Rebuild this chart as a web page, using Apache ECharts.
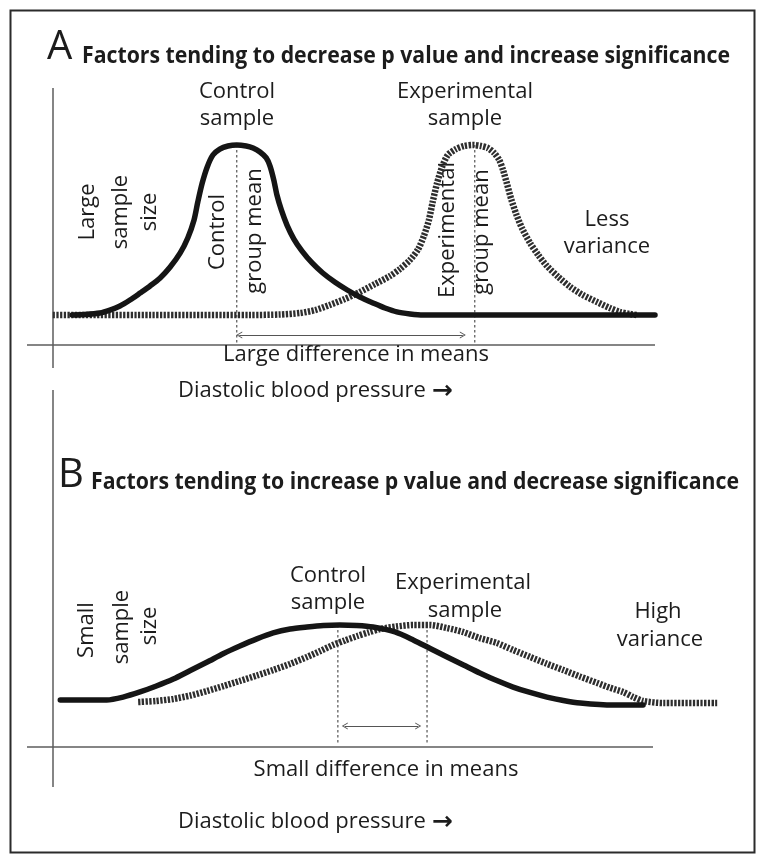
<!DOCTYPE html>
<html><head><meta charset="utf-8">
<script src="https://cdn.jsdelivr.net/npm/echarts@6/dist/echarts.min.js"></script>
<style>html,body{margin:0;padding:0;background:#fff}#c{width:764px;height:863px}</style>
</head><body><div id="c"></div>
<script>
// ---- Panel A (large sample, less variance) : [blood pressure units, relative height]
const controlA = [[7.2,0],[9.2,0.3],[11.6,1.2],[13.2,2.9],[14.8,5.3],[16.4,8.8],[18.0,12.9],[19.6,17.1],[21.2,21.8],[22.8,28.2],[24.4,36.5],[25.6,45.3],[26.6,55.9],[27.2,66.5],[27.9,77.6],[28.7,87.1],[29.6,94.1],[30.7,97.6],[32.0,99.4],[33.4,100],[34.9,99.4],[36.0,98.2],[37.1,95.9],[38.1,92.4],[38.7,87.6],[39.3,79.4],[39.8,70.6],[40.5,61.8],[41.4,52.9],[42.5,44.7],[43.8,37.6],[45.4,30.6],[47.1,24.7],[49.0,19.4],[51.0,14.7],[53.0,10.6],[55.1,7.1],[57.0,4.1],[58.9,1.8],[61.0,0.6],[63.1,0],[80,0],[100,0]];
const experimentalA = [[4.1,0],[19.6,0],[35.5,0],[40.3,0.3],[43.5,1.2],[45.9,2.9],[48.2,5.9],[50.6,9.4],[53.0,13.5],[55.4,18.2],[57.8,22.9],[59.4,27.1],[61.0,32.4],[62.3,38.8],[63.2,46.5],[64.0,55.9],[64.6,66.5],[65.3,77.6],[66.1,87.1],[67.0,94.1],[68.3,97.6],[69.6,99.4],[71.0,100],[72.3,99.4],[73.4,98.2],[74.4,95.3],[75.2,91.2],[75.8,85.3],[76.4,77.6],[77.1,68.2],[77.9,59.4],[78.8,51.2],[80.1,42.4],[81.4,35.3],[82.8,28.8],[84.6,22.4],[86.5,16.5],[88.5,11.8],[90.8,7.6],[92.8,4.1],[94.4,1.8],[96.0,0.6],[97.1,0]];
const meansA = [33.4, 71.3];
const meanTopsA = [100, 100];
const diffArrowA = [33.8, 69.4];

// ---- Panel B (small sample, high variance)
const controlB = [[5.3,1.2],[12.7,1.2],[15.3,2.9],[18.0,5.9],[20.6,9.4],[23.3,13.5],[26.0,18.5],[28.7,23.5],[31.3,28.5],[33.9,32.9],[36.6,37.1],[39.2,40.6],[41.9,42.9],[44.6,44.1],[47.2,45.0],[49.8,45.3],[52.5,45.0],[55.1,44.1],[58.6,41.2],[61.5,36.5],[64.2,31.5],[66.9,26.5],[69.5,21.8],[72.1,17.1],[74.8,12.6],[77.4,8.8],[80.1,5.6],[82.8,2.9],[85.4,0.9],[88.1,-0.6],[93.3,-1.8],[98.1,-1.8]];
const experimentalB = [[17.7,0],[20.5,0.6],[23.3,1.8],[26.0,3.8],[28.7,6.5],[31.3,9.4],[33.9,12.4],[36.6,15.6],[39.2,18.8],[41.9,22.4],[44.6,26.5],[46.7,30.0],[48.7,33.5],[50.6,36.2],[52.6,38.8],[54.4,41.0],[56.2,42.9],[58.8,44.4],[61.5,45.3],[64.2,45.3],[66.9,43.5],[69.4,41.2],[72.1,37.6],[74.8,34.7],[77.4,30.6],[80.1,26.5],[82.7,22.6],[85.4,18.8],[88.1,14.9],[90.8,11.2],[92.8,8.4],[94.9,5.9],[96.5,3.0],[98.1,0.6],[101.3,-0.6],[109.9,-0.6]];
const meansB = [49.5, 63.7];
const meanTopsB = [45.3, 45.3];
const diffArrowB = [50.6, 62.3];

// ---- texts
const titleA = 'Factors tending to decrease p value and increase significance';
const titleB = 'Factors tending to increase p value and decrease significance';
const axisTitle = 'Diastolic blood pressure ';

const FONT = '"Open Sans", "Noto Sans", sans-serif';
const TXT = '#1c1c1c';
const chevron = 'path://M0,10 L5,0 L10,10 L8.6,10 L5,2.8 L1.4,10 Z';

function measure(str, font) {
  const ctx = document.createElement('canvas').getContext('2d');
  ctx.font = font; return ctx.measureText(str).width;
}
function label(text, x, y, o) {
  o = o || {};
  const st = { text: text, fill: TXT, fontSize: o.size || 22, fontFamily: FONT,
      fontWeight: o.weight || 'normal', align: o.align || 'center', verticalAlign: 'middle' };
  if (o.rich) st.rich = o.rich;
  return { type: 'text', x: x, y: y, rotation: o.rot || 0, silent: true, scaleX: o.sx || 1, style: st };
}
function gline(x1, y1, x2, y2, color, w) {
  return { type: 'line', silent: true, shape: { x1, y1, x2, y2 }, style: { stroke: color, lineWidth: w } };
}
const arrowRich = {
  t: { fontSize: 22, fontFamily: FONT, fill: TXT },
  a: { fontSize: 25, fontFamily: '"DejaVu Sans", sans-serif', fontWeight: 'bold', fill: TXT }
};

const titleFont = 'bold 24px "Open Sans"';
const tw = measure(titleA, titleFont);
const sxTitle = 648 / tw;

const R = Math.PI / 2;
const AX = '#5c5c5c';
const graphics = [
  { type: 'rect', silent: true, shape: { x: 10.5, y: 10.5, width: 744, height: 842 }, style: { fill: null, stroke: '#2b2b2b', lineWidth: 2 } },
  gline(27, 345, 655, 345, AX, 1.5), gline(53, 88, 53, 368, AX, 1.5),
  gline(27, 747, 653, 747, AX, 1.5), gline(53, 390, 53, 787, AX, 1.5),
  // Panel A texts
  label('A', 47, 48, { size: 40, align: 'left' }),
  label(titleA, 82, 56, { size: 24, weight: 'bold', align: 'left', sx: sxTitle }),
  label('Control', 237, 92), label('sample', 237, 119),
  label('Experimental', 465, 92), label('sample', 465, 119),
  label('Large', 88, 212, { rot: R }), label('sample', 121, 212, { rot: R }), label('size', 150, 212, { rot: R }),
  label('Control', 218, 232, { rot: R }), label('group mean', 255, 231, { rot: R }),
  label('Experimental', 448, 230, { rot: R }), label('group mean', 482, 232, { rot: R }),
  label('Less', 607, 220), label('variance', 607, 247),
  label('Large difference in means', 356, 355),
  label('{t|' + axisTitle + '}{a|\u2192}', 178, 391, { align: 'left', rich: arrowRich }),
  // Panel B texts
  label('B', 58, 476, { size: 40, align: 'left' }),
  label(titleB, 91, 482, { size: 24, weight: 'bold', align: 'left', sx: sxTitle }),
  label('Control', 328, 576), label('sample', 328, 603),
  label('Experimental', 463, 583), label('sample', 465, 611),
  label('High', 658, 612), label('variance', 660, 640),
  label('Small', 87, 630, { rot: R }), label('sample', 122, 627, { rot: R }), label('size', 150, 626, { rot: R }),
  label('Small difference in means', 386, 770),
  label('{t|' + axisTitle + '}{a|\u2192}', 178, 822, { align: 'left', rich: arrowRich })
];

function curve(data, gi, solid) {
  return { type: 'line', xAxisIndex: gi, yAxisIndex: gi, data: data, smooth: 0.25, symbol: 'none', clip: false,
    z: solid ? 4 : 3,
    lineStyle: solid ? { color: '#151515', width: 5.5, cap: 'round', join: 'round' }
                     : { color: '#2e2e2e', width: 6.5, type: [2.3, 1.4], cap: 'butt' } };
}
function meanLine(x, top, bottom, gi) {
  return { type: 'line', xAxisIndex: gi, yAxisIndex: gi, data: [[x, top], [x, bottom]], symbol: 'none', clip: false, z: 2,
    lineStyle: { color: '#555', width: 1.2, type: [2.5, 2.5] } };
}
function arrow(range, y, gi) {
  return { type: 'line', xAxisIndex: gi, yAxisIndex: gi, data: [], symbol: 'none', z: 2,
    markLine: { silent: true, symbol: [chevron, chevron], symbolSize: [7, 6], label: { show: false },
      lineStyle: { color: '#555', width: 1, type: 'solid' },
      data: [[{ coord: [range[0], y] }, { coord: [range[1], y] }]] } };
}

const chart = echarts.init(document.getElementById('c'));
chart.setOption({
  animation: false,
  backgroundColor: '#fff',
  grid: [{ left: 27, top: 94, width: 690.8, height: 272 }, { left: 27, top: 481, width: 690.8, height: 272 }],
  xAxis: [{ gridIndex: 0, type: 'value', min: 0, max: 110, show: false }, { gridIndex: 1, type: 'value', min: 0, max: 110, show: false }],
  yAxis: [{ gridIndex: 0, type: 'value', min: -30, max: 130, show: false }, { gridIndex: 1, type: 'value', min: -30, max: 130, show: false }],
  series: [
    curve(experimentalA, 0, false), curve(controlA, 0, true),
    meanLine(meansA[0], meanTopsA[0], -16.5, 0), meanLine(meansA[1], meanTopsA[1], -16.5, 0),
    arrow(diffArrowA, -11.8, 0),
    curve(experimentalB, 1, false), curve(controlB, 1, true),
    meanLine(meansB[0], meanTopsB[0], -25.3, 1), meanLine(meansB[1], meanTopsB[1], -25.3, 1),
    arrow(diffArrowB, -14.1, 1)
  ],
  graphic: { elements: graphics }
});
</script></body></html>
